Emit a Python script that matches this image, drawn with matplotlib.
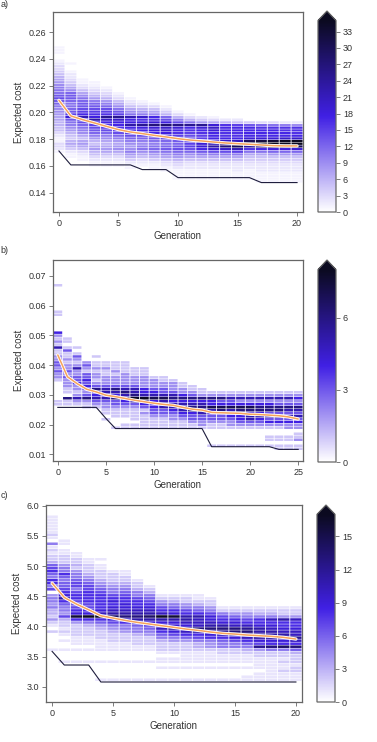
import numpy as np
import matplotlib
matplotlib.use('Agg')
import matplotlib.pyplot as plt
import matplotlib.patheffects as pe
from matplotlib.colors import LinearSegmentedColormap

plt.rcParams['font.family'] = ['Liberation Sans', 'DejaVu Sans']
plt.rcParams['font.size'] = 6.5

# ---- panel a : counts per cost bin, one string per generation (top bin first, base-36 digits)
a_edge0, a_step, a_nbins = 0.1455, 0.002, 52
a_top = [51, 45, 39, 38, 36, 34, 32, 31, 30, 29, 27, 26, 25, 25, 24, 24, 23, 23, 23, 23, 23]
a_cols = [
    "111001233456789abbdedca99877665532113321",
    "10012234579cddcbbcdfjdba986546764211",
    "1123579bcddefhmgecba97578753211",
    "1123468acdefginhfedca86578653211",
    "123468acefgpkhgfeca97678753211",
    "123579bdfpkihgfeca8789753211",
    "123579bmhinhgfeca989a864211",
    "12468akgipihgeca9ab975321",
    "13579hgjrjihfdbabca864211",
    "1246ceiskjigecbcdb9753211",
    "136aeqjhgfedcdeca864321111",
    "136bphgfedeffec9753221111",
    "248pjhgffhjjhda753221111",
    "137jkjhhhjlnjea753221111",
    "26ghhgghkprkea753221111",
    "25fhhgghlsumfa753222111",
    "4dhhhhjuxogb7543221111",
    "3cghhhjwzqhb75432221111",
    "3bghhhjxzsic85432221111",
    "2agghhkzztic85432221111",
    "29ggghkzzujc85432221111",
]
a_mean = [0.2090, 0.1973, 0.1945, 0.1920, 0.1895, 0.1871, 0.1853, 0.1841, 0.1828, 0.1816, 0.1803,
          0.1793, 0.1786, 0.1778, 0.1771, 0.1766, 0.1761, 0.1756, 0.1751, 0.1749, 0.1749]
a_min = [0.1711, 0.1607, 0.1607, 0.1607, 0.1607, 0.1607, 0.1607, 0.1572, 0.1572, 0.1572, 0.1512,
         0.1512, 0.1512, 0.1512, 0.1512, 0.1512, 0.1512, 0.1475, 0.1475, 0.1475, 0.1475]

# ---- panel b
b_edge0, b_step, b_nbins = 0.0114, 0.001, 56
b_top = [55, 37, 34, 29, 31, 29, 29, 29, 27, 27, 24, 24, 23, 22, 21, 20,
         19, 19, 19, 19, 19, 19, 19, 19, 19, 19]
b_cols = [
    "10000000011000004212151122332322100000011",
    "11013112122323222110611",
    "10132125223342212521",
    "2321334343236211",
    "101121221236445321",
    "11211222355453221101",
    "11121222365463321110001",
    "11112222356574321110011",
    "111222355685321111011",
    "111222244586431211111",
    "122234574443321111",
    "112233575453321111",
    "12223564554322111",
    "1122464565432111",
    "112364566433211",
    "11264566533221",
    "1264475433211000001",
    "1263476433211000001",
    "1253475443221000001",
    "1252476444321000001",
    "1252476455321000001",
    "1252466454321000001",
    "1252466353421001101",
    "12523663534210011011",
    "12523653534220011011",
    "12423653534220112011",
]
b_mean = [0.0434, 0.0361, 0.0338, 0.0319, 0.0310, 0.0299, 0.0294, 0.0288, 0.0282, 0.0277, 0.0272,
          0.0268, 0.0265, 0.0258, 0.0252, 0.0249, 0.0241, 0.0240, 0.0239, 0.0238, 0.0235,
          0.0234, 0.0232, 0.0230, 0.0226, 0.0219]
b_min = [0.0258, 0.0258, 0.0258, 0.0258, 0.0258, 0.0221, 0.0187, 0.0187, 0.0187, 0.0187, 0.0187,
         0.0187, 0.0187, 0.0187, 0.0187, 0.0187, 0.0126, 0.0126, 0.0126, 0.0126, 0.0126,
         0.0126, 0.0126, 0.0117, 0.0117, 0.0117]

# ---- panel c
c_edge0, c_step, c_nbins = 3.09, 0.05, 55
c_top = [54, 46, 42, 40, 40, 36, 36, 33, 31, 28, 28, 28, 28, 27, 24, 24, 24, 24, 24, 24, 24]
c_cols = [
    "111111210512122367865885704554533242102000001",
    "1101122245586566789b865547322121010010001",
    "112232455677578876789g842222111010001",
    "1122234567788887789h853222111010001",
    "101122234567888889ah864322211110001000001",
    "1222345578989abe975432221110001000001",
    "1122345678899abda85542221110001000001",
    "1223557889abdb86553222110001000001",
    "12356789abeb97654222110001000001",
    "124578ahb98a86532221011010001",
    "1235689gb99b97542221011010001",
    "1224578bba9ca8642221111010001",
    "1123568baaadb8753321111010001",
    "12245799abdb9854421111010001",
    "125789bdca865522111010001",
    "124689addb975522111010001",
    "124578acdba86532111010011",
    "1235889bbbb97c42211110111",
    "1235a89abbb98d52211111111",
    "1224b889abc98e52212112111",
    "1224a889aaca8d63222122111",
]
c_mean = [4.717, 4.480, 4.370, 4.276, 4.177, 4.139, 4.100, 4.067, 4.040, 4.012, 3.985,
          3.957, 3.935, 3.908, 3.886, 3.874, 3.858, 3.847, 3.836, 3.819, 3.792]
c_min = [3.588, 3.362, 3.362, 3.362, 3.081, 3.081, 3.081, 3.081, 3.081, 3.081, 3.081,
         3.081, 3.081, 3.081, 3.081, 3.081, 3.081, 3.081, 3.081, 3.081, 3.081]

cmap = LinearSegmentedColormap.from_list('pop', ['#ffffff', '#4020e4', '#0b0a20'])
grey = '#666666'


def grid(tops, cols, nbins):
    z = np.zeros((nbins, len(cols)))
    for g, (t, s) in enumerate(zip(tops, cols)):
        for i, ch in enumerate(s):
            if t - i >= 0:
                z[t - i, g] = int(ch, 36)
    return z


def panel(ax, cax, tops, cols, edge0, step, nbins, mean, best, vmax, cticks, xticks, yticks, ylim, yfmt):
    z = grid(tops, cols, nbins)
    ng = len(cols)
    xe = np.arange(ng + 1) - 0.5
    ye = edge0 + step * np.arange(nbins + 1)
    m = ax.pcolormesh(xe, ye, z, cmap=cmap, vmin=0, vmax=vmax, edgecolors='none', zorder=1)
    # thin white grid between the cells
    hl = ax.hlines(ye, xe[0], xe[-1], color='white', lw=0.35, zorder=1.5)
    vl = ax.vlines(xe, ye[0], ye[-1], color='white', lw=0.6, zorder=1.5)
    hl.set_snap(False)
    vl.set_snap(False)
    gens = np.arange(ng)
    ax.plot(gens, mean, color='#f6a35b', lw=1.1, solid_capstyle='round', zorder=3,
            path_effects=[pe.Stroke(linewidth=2.4, foreground='white'), pe.Normal()])
    ax.plot(gens, best, color='#1d1c3c', lw=0.8, zorder=3)
    ax.set_xlim(-0.5, ng - 0.5)
    ax.set_ylim(*ylim)
    ax.set_xticks(xticks)
    ax.set_yticks(yticks)
    ax.set_yticklabels([yfmt % v for v in yticks])
    ax.set_xlabel('Generation', fontsize=7, color='#333333', labelpad=2)
    ax.set_ylabel('Expected cost', fontsize=7, color='#333333', labelpad=3)
    for sp in ax.spines.values():
        sp.set_color(grey)
        sp.set_linewidth(0.9)
        sp.set_zorder(4)
    ax.tick_params(length=3, width=0.6, color=grey, labelcolor='#333333', labelsize=6.5, pad=2)
    cb = plt.colorbar(m, cax=cax, extend='max', ticks=cticks)
    cb.outline.set_edgecolor(grey)
    cb.outline.set_linewidth(0.9)
    cax.tick_params(length=3, width=0.6, color=grey, labelcolor='#333333', labelsize=6.5, pad=2)


W, H = 377, 742
fig = plt.figure(figsize=(W / 100, H / 100), dpi=100)


def box(l, t, r, b):
    return [l / W, 1 - b / H, (r - l) / W, (b - t) / H]


ax_a = fig.add_axes(box(53, 12, 303, 212))
cax_a = fig.add_axes(box(318, 11, 336, 212))
panel(ax_a, cax_a, a_top, a_cols, a_edge0, a_step, a_nbins, a_mean, a_min, 35,
      range(0, 34, 3), range(0, 21, 5), [0.14, 0.16, 0.18, 0.20, 0.22, 0.24, 0.26],
      (0.1255, 0.275), '%.2f')

ax_b = fig.add_axes(box(53, 260, 303, 461))
cax_b = fig.add_axes(box(318, 260, 336, 462))
panel(ax_b, cax_b, b_top, b_cols, b_edge0, b_step, b_nbins, b_mean, b_min, 8,
      [0, 3, 6], range(0, 26, 5), [0.01, 0.02, 0.03, 0.04, 0.05, 0.06, 0.07],
      (0.0078, 0.0753), '%.2f')

ax_c = fig.add_axes(box(46, 505, 302, 702))
cax_c = fig.add_axes(box(317, 505, 335, 702))
panel(ax_c, cax_c, c_top, c_cols, c_edge0, c_step, c_nbins, c_mean, c_min, 17,
      range(0, 16, 3), range(0, 21, 5), [3.0, 3.5, 4.0, 4.5, 5.0, 5.5, 6.0],
      (2.75, 6.01), '%.1f')

for lab, ypx in [('a)', 0), ('b)', 246), ('c)', 491)]:
    fig.text(0.002, 1 - ypx / H, lab, fontsize=6.5, color='#333333', va='top', ha='left')

fig.savefig('out.png', dpi=100)
